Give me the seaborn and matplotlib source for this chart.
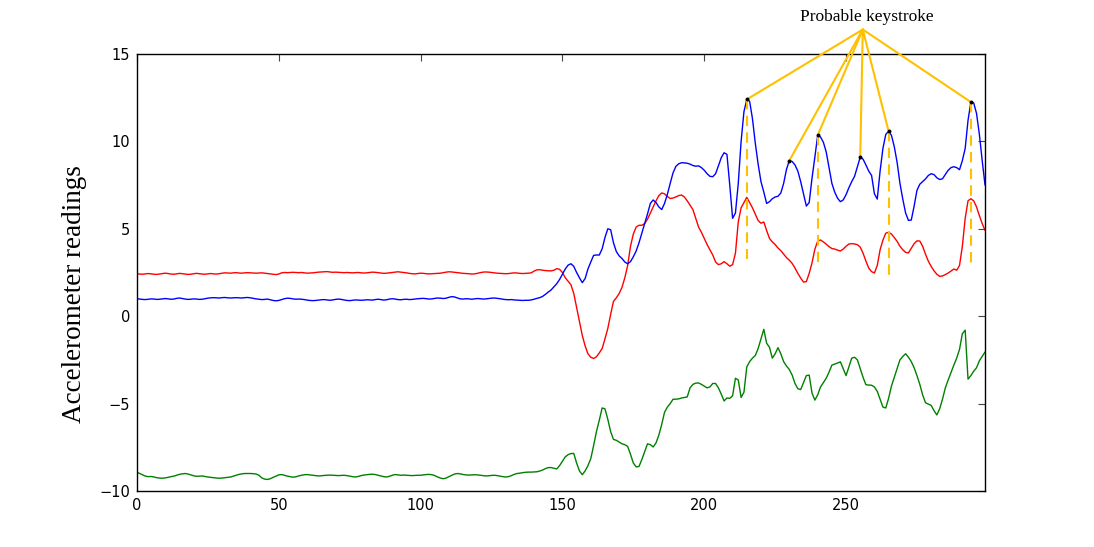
import numpy as np
import pandas as pd
import matplotlib
matplotlib.use("Agg")
import matplotlib.pyplot as plt
import seaborn as sns

blue_vals = [
    1.00, 0.98, 0.96, 0.95, 0.97, 0.99, 0.98, 0.96, 0.97, 0.99,
    1.01, 0.99, 0.97, 0.98, 1.02, 1.04, 1.01, 0.98, 0.96, 0.97,
    0.99, 0.98, 0.96, 0.97, 1.00, 1.03, 1.05, 1.06, 1.05, 1.04,
    1.06, 1.07, 1.05, 1.04, 1.05, 1.06, 1.05, 1.04, 1.06, 1.07,
    1.05, 1.02, 0.99, 0.97, 0.95, 0.96, 0.98, 0.94, 0.90, 0.88,
    0.90, 0.95, 1.00, 1.03, 1.02, 0.99, 0.97, 0.98, 0.97, 0.95,
    0.92, 0.90, 0.89, 0.90, 0.92, 0.94, 0.95, 0.93, 0.91, 0.93,
    0.96, 0.98, 0.96, 0.93, 0.90, 0.89, 0.91, 0.93, 0.92, 0.91,
    0.92, 0.94, 0.93, 0.92, 0.95, 0.97, 0.95, 0.92, 0.94, 0.98,
    1.00, 0.98, 0.95, 0.94, 0.96, 0.97, 0.95, 0.96, 0.98, 1.00,
    1.01, 1.02, 1.00, 0.98, 0.99, 1.02, 1.04, 1.03, 1.01, 1.03,
    1.08, 1.12, 1.10, 1.04, 0.99, 0.98, 1.00, 0.99, 0.97, 0.99,
    1.01, 1.00, 0.98, 0.99, 1.01, 1.03, 1.04, 1.02, 1.00, 0.97,
    0.95, 0.94, 0.95, 0.93, 0.92, 0.91, 0.90, 0.91, 0.91, 0.93,
    0.97, 1.02, 1.06, 1.13, 1.25, 1.38, 1.50, 1.68, 1.86, 2.10,
    2.40, 2.70, 2.92, 3.00, 2.85, 2.50, 2.20, 1.92, 2.15, 2.70,
    3.10, 3.48, 3.50, 3.50, 3.85, 4.50, 5.00, 4.95, 4.20, 3.70,
    3.45, 3.30, 3.10, 3.00, 3.12, 3.40, 3.73, 4.20, 4.75, 5.30,
    5.85, 6.45, 6.65, 6.50, 6.25, 6.10, 6.45, 6.97, 7.60, 8.20,
    8.57, 8.72, 8.78, 8.77, 8.75, 8.70, 8.62, 8.58, 8.60, 8.50,
    8.35, 8.15, 8.00, 7.98, 8.15, 8.60, 9.07, 9.35, 9.26, 7.50,
    5.60, 5.90, 7.60, 10.00, 11.70, 12.40, 12.30, 11.30, 9.90, 8.70,
    7.70, 7.10, 6.45, 6.55, 6.72, 6.82, 6.86, 7.05, 7.60, 8.40,
    8.90, 8.85, 8.65, 8.30, 7.70, 7.00, 6.30, 6.50, 7.90, 9.10,
    10.35, 10.25, 9.95, 9.40, 8.50, 7.60, 7.10, 6.75, 6.55, 6.65,
    6.95, 7.35, 7.70, 8.00, 8.55, 9.10, 8.98, 8.65, 8.30, 8.05,
    7.00, 6.70, 8.30, 9.60, 10.40, 10.58, 10.35, 9.70, 8.80, 7.60,
    6.70, 5.90, 5.48, 5.50, 6.30, 7.20, 7.55, 7.70, 7.85, 8.05,
    8.15, 8.10, 7.92, 7.82, 7.86, 8.10, 8.35, 8.50, 8.55, 8.50,
    8.38, 8.90, 9.60, 11.20, 12.25, 12.20, 11.60, 10.40, 8.90, 7.50,
]

red_vals = [
    2.42, 2.41, 2.40, 2.42, 2.44, 2.42, 2.40, 2.39, 2.41, 2.44,
    2.46, 2.44, 2.41, 2.40, 2.42, 2.45, 2.43, 2.41, 2.39, 2.40,
    2.43, 2.45, 2.43, 2.41, 2.40, 2.42, 2.44, 2.42, 2.41, 2.43,
    2.46, 2.48, 2.47, 2.46, 2.48, 2.49, 2.47, 2.46, 2.48, 2.49,
    2.48, 2.47, 2.46, 2.47, 2.48, 2.46, 2.44, 2.42, 2.40, 2.38,
    2.41, 2.48, 2.50, 2.49, 2.50, 2.51, 2.50, 2.49, 2.50, 2.48,
    2.46, 2.47, 2.48, 2.50, 2.52, 2.53, 2.54, 2.55, 2.53, 2.51,
    2.52, 2.51, 2.50, 2.49, 2.50, 2.49, 2.48, 2.49, 2.50, 2.48,
    2.47, 2.48, 2.50, 2.52, 2.51, 2.49, 2.47, 2.45, 2.46, 2.48,
    2.50, 2.52, 2.54, 2.52, 2.50, 2.48, 2.45, 2.43, 2.42, 2.44,
    2.46, 2.45, 2.43, 2.42, 2.43, 2.44, 2.45, 2.46, 2.49, 2.52,
    2.54, 2.53, 2.51, 2.49, 2.47, 2.45, 2.44, 2.43, 2.41, 2.42,
    2.45, 2.49, 2.52, 2.53, 2.52, 2.50, 2.48, 2.46, 2.45, 2.44,
    2.43, 2.44, 2.46, 2.48, 2.47, 2.45, 2.44, 2.45, 2.46, 2.48,
    2.58, 2.65, 2.66, 2.63, 2.61, 2.60, 2.59, 2.63, 2.72, 2.68,
    2.50, 2.20, 2.00, 1.80, 1.30, 0.50, -0.30, -1.10, -1.70, -2.15,
    -2.35, -2.42, -2.32, -2.10, -1.85, -1.30, -0.70, 0.10, 0.85, 1.05,
    1.30, 1.65, 2.20, 2.90, 4.00, 4.70, 5.10, 5.20, 5.20, 5.30,
    5.55, 5.90, 6.25, 6.60, 6.90, 7.05, 7.00, 6.85, 6.73, 6.76,
    6.82, 6.90, 6.93, 6.82, 6.60, 6.35, 6.10, 5.60, 5.10, 4.80,
    4.45, 4.10, 3.80, 3.50, 3.10, 2.95, 3.00, 3.12, 3.00, 2.86,
    2.95, 3.60, 5.40, 6.20, 6.50, 6.80, 6.50, 6.20, 5.83, 5.47,
    5.32, 5.39, 4.90, 4.45, 4.25, 4.10, 3.90, 3.75, 3.55, 3.35,
    3.20, 3.02, 2.75, 2.45, 2.18, 1.95, 1.98, 2.45, 3.05, 3.83,
    4.30, 4.36, 4.25, 4.12, 3.98, 3.87, 3.84, 3.78, 3.73, 3.84,
    4.00, 4.13, 4.15, 4.13, 4.09, 3.95, 3.60, 3.15, 2.75, 2.55,
    2.47, 2.90, 3.80, 4.35, 4.75, 4.80, 4.70, 4.50, 4.28, 4.00,
    3.80, 3.65, 3.62, 3.88, 4.15, 4.31, 4.30, 4.00, 3.55, 3.15,
    2.85, 2.60, 2.40, 2.28, 2.30, 2.38, 2.47, 2.58, 2.70, 2.63,
    2.90, 4.00, 5.60, 6.60, 6.72, 6.60, 6.25, 5.75, 5.30, 4.90,
]

green_vals = [
    -8.93, -9.00, -9.08, -9.15, -9.18, -9.17, -9.20, -9.24, -9.26, -9.27,
    -9.25, -9.22, -9.18, -9.15, -9.10, -9.05, -9.02, -9.00, -9.03, -9.08,
    -9.13, -9.16, -9.15, -9.14, -9.17, -9.20, -9.22, -9.24, -9.26, -9.27,
    -9.26, -9.24, -9.22, -9.20, -9.15, -9.10, -9.05, -9.02, -9.00, -9.00,
    -9.00, -9.01, -9.03, -9.10, -9.25, -9.32, -9.34, -9.30, -9.22, -9.15,
    -9.08, -9.06, -9.10, -9.15, -9.18, -9.21, -9.19, -9.14, -9.10, -9.07,
    -9.06, -9.08, -9.10, -9.12, -9.14, -9.13, -9.11, -9.10, -9.09, -9.10,
    -9.11, -9.12, -9.11, -9.10, -9.12, -9.15, -9.18, -9.20, -9.17, -9.12,
    -9.09, -9.07, -9.05, -9.04, -9.06, -9.10, -9.14, -9.18, -9.20, -9.16,
    -9.10, -9.06, -9.08, -9.10, -9.09, -9.10, -9.11, -9.12, -9.11, -9.10,
    -9.10, -9.08, -9.06, -9.05, -9.07, -9.12, -9.20, -9.26, -9.30, -9.26,
    -9.18, -9.10, -9.03, -9.00, -9.02, -9.06, -9.08, -9.09, -9.08, -9.07,
    -9.08, -9.10, -9.12, -9.14, -9.13, -9.11, -9.10, -9.12, -9.15, -9.18,
    -9.20, -9.18, -9.12, -9.05, -9.00, -8.98, -8.95, -8.93, -8.92, -8.92,
    -8.91, -8.90, -8.86, -8.80, -8.72, -8.66, -8.66, -8.70, -8.74, -8.55,
    -8.30, -8.05, -7.92, -7.86, -7.85, -8.40, -8.85, -9.07, -8.85, -8.55,
    -8.15, -7.40, -6.60, -5.95, -5.25, -5.30, -5.90, -6.60, -7.05, -7.10,
    -7.20, -7.30, -7.35, -7.45, -7.90, -8.40, -8.62, -8.60, -8.20, -7.75,
    -7.30, -7.35, -7.48, -7.25, -6.80, -6.20, -5.50, -5.20, -5.00, -4.75,
    -4.75, -4.73, -4.68, -4.65, -4.62, -4.10, -3.90, -3.83, -3.82, -3.90,
    -4.00, -4.10, -4.05, -3.85, -3.85, -4.10, -4.46, -4.85, -4.68, -4.70,
    -4.55, -3.55, -3.65, -4.65, -4.35, -2.90, -2.60, -2.40, -2.25, -1.85,
    -1.30, -0.75, -1.55, -1.78, -2.40, -2.15, -1.80, -2.15, -2.60, -2.85,
    -3.05, -3.37, -3.85, -4.15, -4.20, -3.80, -3.40, -3.37, -4.40, -4.80,
    -4.50, -4.05, -3.80, -3.55, -3.20, -2.80, -2.74, -2.68, -2.61, -3.00,
    -3.40, -2.90, -2.40, -2.35, -2.50, -3.00, -3.50, -3.92, -3.94, -3.95,
    -4.05, -4.30, -4.75, -5.20, -5.25, -4.70, -4.00, -3.50, -3.00, -2.50,
    -2.30, -2.15, -2.35, -2.60, -2.95, -3.40, -3.90, -4.50, -4.95, -5.03,
    -5.10, -5.40, -5.65, -5.30, -4.75, -4.10, -3.65, -3.22, -2.80, -2.40,
    -1.90, -1.00, -0.80, -3.60, -3.40, -3.15, -2.95, -2.55, -2.30, -2.05,
]

keystroke_idx = [215, 230, 240, 255, 265, 294]
dashed_idx = [215, 240, 265, 294]
dashed_bottom = [3.25, 2.85, 2.3, 2.95]
label_text = "Probable keystroke"
ylabel_text = "Accelerometer readings"
x_ticks = [0, 50, 100, 150, 200, 250]
y_ticks = [-10, -5, 0, 5, 10, 15]

n = len(blue_vals)
idx = np.arange(n)
df = pd.DataFrame({
    "t": np.concatenate([idx, idx, idx]),
    "value": blue_vals + red_vals + green_vals,
    "axis": ["b"] * n + ["r"] * n + ["g"] * n,
})

sns.set_style("white")
plt.rcParams["font.family"] = ["DejaVu Sans"]
plt.rcParams["text.color"] = "black"
plt.rcParams["axes.labelcolor"] = "black"

fig = plt.figure(figsize=(10.94, 5.47), dpi=100)
ax = fig.add_axes([0.1252, 0.1024, 0.7752, 0.7989])

palette = {"b": "#0000FF", "r": "#FF0000", "g": "#008000"}
sns.lineplot(data=df, x="t", y="value", hue="axis", palette=palette,
             estimator=None, linewidth=1.0, legend=False, ax=ax,
             hue_order=["r", "b", "g"])

orange = "#FFC000"
blue_arr = np.array(blue_vals)
for i, b in zip(dashed_idx, dashed_bottom):
    ax.plot([i, i], [blue_arr[i], b], color=orange, lw=1.5,
            ls=(0, (5, 3)), zorder=3)

src = (255.9, 16.4)
for i in keystroke_idx:
    ax.plot([src[0], i], [src[1], blue_arr[i]], color=orange, lw=1.5,
            clip_on=False, zorder=4)

kdf = pd.DataFrame({"t": keystroke_idx, "v": blue_arr[keystroke_idx]})
sns.scatterplot(data=kdf, x="t", y="v", color="black", s=8, marker="o",
                edgecolor="black", linewidth=0, ax=ax, zorder=5)

ax.text(257.3, 17.12, label_text, ha="center", va="center", color="black",
        fontsize=12.5, family="Liberation Serif", clip_on=False)

ax.set_xlim(0, n - 1)
ax.set_ylim(-10, 15)
ax.set_xticks(x_ticks)
ax.set_yticks(y_ticks)
ax.set_xlabel("")
ax.set_ylabel(ylabel_text, fontsize=19.5, family="Liberation Serif",
              color="black")
ax.yaxis.set_label_coords(-0.0595, 0.45)
ax.tick_params(direction="in", top=True, right=True, length=5,
               width=0.8, labelsize=10.5, color="#444444",
               labelcolor="black", pad=5)
for s in ax.spines.values():
    s.set_color("black")
    s.set_linewidth(1.0)

fig.savefig("out.png", dpi=100)
